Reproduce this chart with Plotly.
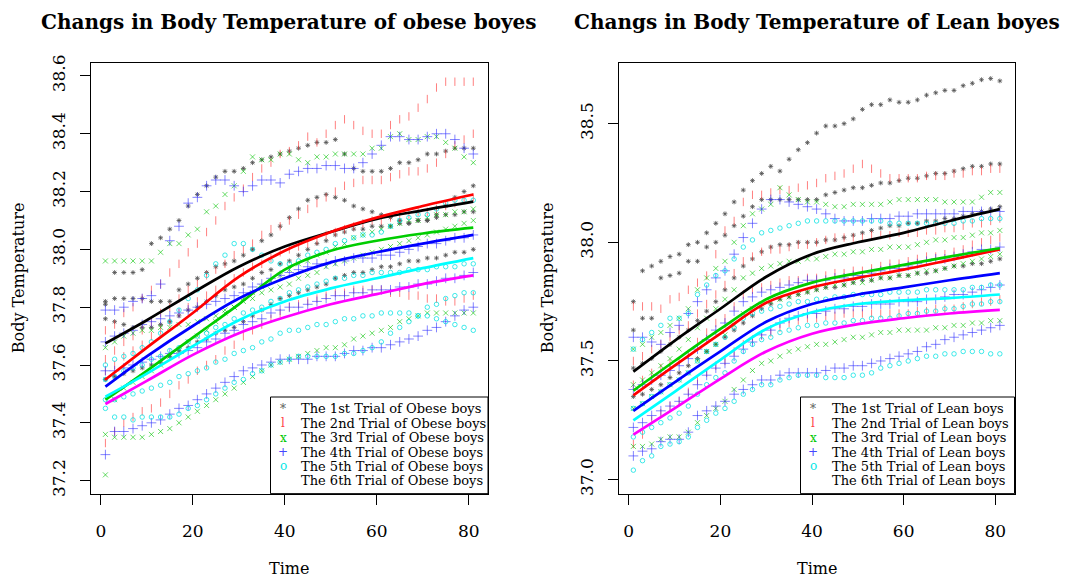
import plotly.graph_objects as go

# ---------------- data ----------------
TIME = list(range(1, 82, 2))                 # observation times shown (odd minutes)
FIT_TIME = [1, 10, 20, 30, 40, 50, 60, 70, 81]
X_TICKS = [0, 20, 40, 60, 80]
OBESE_Y_TICKS = [37.2, 37.4, 37.6, 37.8, 38.0, 38.2, 38.4, 38.6]
LEAN_Y_TICKS = [37.0, 37.5, 38.0, 38.5]

OBESE_LABELS = ["The 1st Trial of Obese boys", "The 2nd Trial of Obese boys",
                "The 3rd Trial of Obese boys", "The 4th Trial of Obese boys",
                "The 5th Trial of Obese boys", "The 6th Trial of Obese boys"]
LEAN_LABELS = ["The 1st Trial of Lean boys", "The 2nd Trial of Lean boys",
               "The 3rd Trial of Lean boys", "The 4th Trial of Lean boys",
               "The 5th Trial of Lean boys", "The 6th Trial of Lean boys"]
LEGEND_SYMBOLS = ["*", "l", "x", "+", "o", " "]

# ---- obese boys: individual tracks per trial ----
obese_trial1 = [
    [37.82, 37.92, 37.92, 37.92, 37.93, 38.02, 38.04, 38.07, 38.10, 38.15,
     38.19, 38.22, 38.25, 38.27, 38.27, 38.28, 38.30, 38.31, 38.32, 38.33,
     38.34, 38.35, 38.36, 38.37, 38.37, 38.38, 38.33, 38.28, 38.27, 38.27,
     38.27, 38.28, 38.30, 38.30, 38.31, 38.33, 38.33, 38.34, 38.35, 38.35, 38.35],
    [37.81, 37.83, 37.83, 37.83, 37.83, 37.82, 37.82, 37.82, 37.86, 37.88,
     37.90, 37.92, 37.94, 37.95, 37.96, 37.98, 38.00, 38.03, 38.05, 38.08,
     38.11, 38.14, 38.17, 38.18, 38.19, 38.18, 38.17, 38.15, 38.14, 38.13,
     38.12, 38.11, 38.10, 38.09, 38.10, 38.10, 38.12, 38.15, 38.18, 38.20, 38.22],
    [37.76, 37.75, 37.74, 37.73, 37.73, 37.73, 37.74, 37.75, 37.77, 37.79,
     37.80, 37.82, 37.84, 37.86, 37.87, 37.88, 37.90, 37.92, 37.93, 37.95,
     37.96, 37.98, 38.00, 38.02, 38.03, 38.05, 38.06, 38.07, 38.07, 38.08,
     38.08, 38.08, 38.09, 38.09, 38.10, 38.10, 38.11, 38.12, 38.12, 38.13, 38.13],
    [37.55, 37.56, 37.57, 37.58, 37.59, 37.60, 37.61, 37.63, 37.65, 37.66,
     37.68, 37.69, 37.71, 37.72, 37.73, 37.75, 37.77, 37.79, 37.81, 37.83,
     37.84, 37.85, 37.86, 37.87, 37.88, 37.90, 37.91, 37.92, 37.92, 37.93,
     37.94, 37.94, 37.95, 37.96, 37.96, 37.97, 37.97, 37.98, 37.99, 37.99, 38.00],
]
obese_trial2 = [
    [37.72, 37.74, 37.78, 37.80, 37.83, 37.86, 37.88, 37.92, 37.95, 37.99,
     38.02, 38.06, 38.10, 38.15, 38.18, 38.21, 38.25, 38.28, 38.30, 38.33,
     38.34, 38.36, 38.39, 38.37, 38.40, 38.43, 38.45, 38.43, 38.41, 38.40,
     38.40, 38.43, 38.45, 38.46, 38.49, 38.52, 38.56, 38.58, 38.58, 38.58, 38.58],
    [37.62, 37.65, 37.68, 37.70, 37.72, 37.75, 37.78, 37.80, 37.83, 37.86,
     37.88, 37.91, 37.93, 37.95, 37.98, 38.00, 38.02, 38.05, 38.07, 38.08,
     38.10, 38.12, 38.14, 38.16, 38.18, 38.20, 38.22, 38.23, 38.24, 38.24,
     38.24, 38.25, 38.26, 38.27, 38.27, 38.28, 38.30, 38.33, 38.36, 38.38, 38.40],
    [37.33, 37.37, 37.40, 37.42, 37.44, 37.45, 37.47, 37.50, 37.53, 37.55,
     37.58, 37.60, 37.62, 37.65, 37.67, 37.70, 37.72, 37.74, 37.76, 37.78,
     37.80, 37.81, 37.82, 37.83, 37.84, 37.85, 37.85, 37.86, 37.86, 37.86,
     37.86, 37.85, 37.85, 37.84, 37.84, 37.83, 37.83, 37.82, 37.82, 37.83, 37.84],
    [37.58, 37.60, 37.63, 37.65, 37.67, 37.70, 37.72, 37.75, 37.78, 37.80,
     37.82, 37.84, 37.86, 37.88, 37.90, 37.92, 37.94, 37.95, 37.97, 37.99,
     38.00, 38.01, 38.02, 38.03, 38.05, 38.06, 38.07, 38.08, 38.09, 38.10,
     38.10, 38.11, 38.11, 38.12, 38.13, 38.13, 38.14, 38.15, 38.16, 38.17, 38.18],
]
obese_trial3 = [
    [37.96, 37.96, 37.96, 37.96, 37.96, 37.96, 37.99, 38.02, 38.02, 38.05,
     38.07, 38.13, 38.15, 38.19, 38.22, 38.27, 38.32, 38.31, 38.31, 38.33,
     38.33, 38.31, 38.30, 38.32, 38.32, 38.33, 38.33, 38.33, 38.33, 38.35,
     38.35, 38.39, 38.40, 38.38, 38.38, 38.39, 38.39, 38.37, 38.35, 38.32, 38.30],
    [37.36, 37.35, 37.35, 37.35, 37.35, 37.36, 37.37, 37.38, 37.40, 37.42,
     37.44, 37.46, 37.48, 37.50, 37.52, 37.54, 37.56, 37.58, 37.60, 37.61,
     37.62, 37.63, 37.64, 37.65, 37.66, 37.66, 37.67, 37.69, 37.70, 37.71,
     37.72, 37.73, 37.75, 37.76, 37.77, 37.78, 37.78, 37.78, 37.78, 37.78, 37.78],
    [37.22, 37.48, 37.52, 37.54, 37.56, 37.58, 37.60, 37.63, 37.65, 37.68,
     37.70, 37.72, 37.75, 37.78, 37.80, 37.83, 37.85, 37.87, 37.89, 37.91,
     37.93, 37.95, 37.96, 37.98, 37.99, 38.01, 38.02, 38.04, 38.05, 38.06,
     38.07, 38.08, 38.09, 38.10, 38.10, 38.11, 38.12, 38.12, 38.13, 38.13, 38.14],
    [37.66, 37.68, 37.70, 37.71, 37.72, 37.72, 37.73, 37.73, 37.74, 37.74,
     37.75, 37.76, 37.77, 37.79, 37.80, 37.82, 37.83, 37.85, 37.86, 37.87,
     37.88, 37.90, 37.91, 37.92, 37.94, 37.95, 37.96, 37.97, 37.98, 37.99,
     38.00, 38.01, 38.02, 38.03, 38.04, 38.05, 38.06, 38.07, 38.08, 38.09, 38.10],
]
obese_trial4 = [
    [37.79, 37.79, 37.80, 37.82, 37.83, 37.84, 37.88, 38.03, 38.08, 38.16,
     38.18, 38.22, 38.24, 38.24, 38.22, 38.20, 38.22, 38.24, 38.24, 38.23,
     38.26, 38.27, 38.28, 38.28, 38.29, 38.29, 38.28, 38.28, 38.30, 38.33,
     38.36, 38.39, 38.39, 38.38, 38.38, 38.39, 38.40, 38.40, 38.38, 38.35, 38.33],
    [37.29, 37.37, 37.37, 37.38, 37.39, 37.40, 37.41, 37.43, 37.45, 37.46,
     37.48, 37.50, 37.52, 37.54, 37.56, 37.58, 37.59, 37.60, 37.61, 37.62,
     37.62, 37.62, 37.62, 37.63, 37.63, 37.63, 37.64, 37.65, 37.65, 37.66,
     37.66, 37.67, 37.68, 37.69, 37.70, 37.72, 37.73, 37.75, 37.77, 37.79, 37.80],
    [37.68, 37.70, 37.71, 37.72, 37.74, 37.75, 37.76, 37.77, 37.78, 37.79,
     37.80, 37.81, 37.82, 37.83, 37.84, 37.85, 37.87, 37.88, 37.90, 37.91,
     37.92, 37.93, 37.94, 37.95, 37.95, 37.96, 37.96, 37.97, 37.97, 37.97,
     37.98, 37.98, 37.99, 38.00, 38.01, 38.02, 38.02, 38.03, 38.04, 38.04, 38.05],
    [37.58, 37.58, 37.59, 37.60, 37.61, 37.62, 37.63, 37.64, 37.64, 37.65,
     37.66, 37.68, 37.69, 37.71, 37.72, 37.74, 37.75, 37.76, 37.78, 37.79,
     37.80, 37.80, 37.81, 37.82, 37.83, 37.84, 37.84, 37.85, 37.85, 37.86,
     37.86, 37.86, 37.87, 37.87, 37.88, 37.88, 37.89, 37.90, 37.90, 37.91, 37.92],
]
obese_trial5 = [
    [37.60, 37.62, 37.63, 37.64, 37.66, 37.68, 37.71, 37.75, 37.79, 37.83,
     37.86, 37.91, 37.95, 37.98, 38.02, 38.02, 38.00, 37.98, 37.96, 37.95,
     37.95, 37.96, 37.98, 37.99, 38.00, 38.02, 38.03, 38.04, 38.05, 38.05,
     38.06, 38.08, 38.10, 38.11, 38.12, 38.12, 38.14, 38.16, 38.17, 38.17, 38.17],
    [37.45, 37.42, 37.42, 37.41, 37.42, 37.42, 37.42, 37.42, 37.43, 37.45,
     37.46, 37.48, 37.50, 37.52, 37.54, 37.55, 37.57, 37.58, 37.60, 37.61,
     37.62, 37.63, 37.63, 37.63, 37.63, 37.63, 37.64, 37.64, 37.65, 37.66,
     37.68, 37.71, 37.73, 37.75, 37.77, 37.80, 37.81, 37.83, 37.84, 37.85, 37.85],
    [37.55, 37.56, 37.58, 37.59, 37.60, 37.62, 37.63, 37.65, 37.66, 37.68,
     37.70, 37.71, 37.73, 37.74, 37.76, 37.78, 37.79, 37.80, 37.82, 37.83,
     37.85, 37.86, 37.87, 37.88, 37.89, 37.90, 37.90, 37.91, 37.91, 37.92,
     37.92, 37.92, 37.92, 37.93, 37.93, 37.93, 37.94, 37.94, 37.94, 37.95, 37.95],
    [37.48, 37.48, 37.49, 37.50, 37.51, 37.52, 37.53, 37.54, 37.56, 37.57,
     37.58, 37.59, 37.61, 37.62, 37.64, 37.65, 37.66, 37.68, 37.69, 37.71,
     37.72, 37.72, 37.73, 37.74, 37.74, 37.75, 37.76, 37.76, 37.77, 37.77,
     37.78, 37.78, 37.78, 37.78, 37.77, 37.77, 37.76, 37.75, 37.74, 37.73, 37.72],
]

# ---- lean boys: individual tracks per trial ----
lean_trial1 = [
    [37.75, 37.88, 37.90, 37.92, 37.94, 37.95, 37.99, 38.00, 38.04, 38.08,
     38.12, 38.17, 38.22, 38.26, 38.29, 38.32, 38.30, 38.35, 38.39, 38.42,
     38.46, 38.49, 38.49, 38.50, 38.52, 38.56, 38.58, 38.58, 38.60, 38.59,
     38.59, 38.60, 38.62, 38.63, 38.64, 38.64, 38.66, 38.67, 38.685, 38.69, 38.68],
    [37.63, 37.68, 37.68, 37.85, 37.86, 37.87, 37.92, 37.92, 37.98, 38.00,
     38.03, 38.07, 38.11, 38.15, 38.18, 38.18, 38.18, 38.18, 38.18, 38.18,
     38.18, 38.20, 38.21, 38.22, 38.23, 38.23, 38.24, 38.25, 38.25, 38.26,
     38.27, 38.27, 38.28, 38.29, 38.29, 38.30, 38.31, 38.32, 38.32, 38.33, 38.33],
    [37.47, 37.49, 37.51, 37.54, 37.57, 37.60, 37.63, 37.67, 37.71, 37.75,
     37.80, 37.85, 37.90, 37.93, 37.96, 37.98, 37.99, 37.99, 38.00, 38.00,
     38.00, 38.01, 38.01, 38.02, 38.03, 38.04, 38.05, 38.06, 38.07, 38.07,
     38.08, 38.08, 38.09, 38.09, 38.10, 38.10, 38.11, 38.12, 38.13, 38.14, 38.15],
    [37.35, 37.36, 37.38, 37.40, 37.43, 37.45, 37.48, 37.51, 37.54, 37.57,
     37.60, 37.63, 37.66, 37.69, 37.72, 37.74, 37.76, 37.77, 37.78, 37.79,
     37.80, 37.81, 37.81, 37.82, 37.83, 37.84, 37.84, 37.85, 37.85, 37.86,
     37.86, 37.87, 37.87, 37.88, 37.89, 37.90, 37.90, 37.91, 37.91, 37.92, 37.93],
]
lean_trial2 = [
    [37.73, 37.73, 37.73, 37.72, 37.76, 37.77, 37.80, 37.83, 37.86, 37.95,
     38.05, 38.09, 38.17, 38.20, 38.20, 38.21, 38.22, 38.22, 38.23, 38.24,
     38.25, 38.27, 38.28, 38.29, 38.31, 38.33, 38.31, 38.29, 38.27, 38.27,
     38.27, 38.27, 38.28, 38.28, 38.28, 38.29, 38.29, 38.30, 38.30, 38.31, 38.31],
    [37.50, 37.52, 37.55, 37.57, 37.60, 37.63, 37.65, 37.70, 37.74, 37.78,
     37.82, 37.87, 37.92, 37.94, 37.96, 37.97, 37.97, 37.98, 37.99, 37.99,
     38.00, 38.01, 38.02, 38.02, 38.02, 38.02, 38.03, 38.03, 38.03, 38.04,
     38.04, 38.04, 38.05, 38.05, 38.06, 38.06, 38.07, 38.08, 38.08, 38.09, 38.10],
    [37.15, 37.19, 37.25, 37.28, 37.31, 37.33, 37.37, 37.42, 37.45, 37.48,
     37.50, 37.54, 37.57, 37.59, 37.61, 37.62, 37.64, 37.66, 37.67, 37.68,
     37.68, 37.69, 37.69, 37.70, 37.70, 37.70, 37.70, 37.70, 37.70, 37.70,
     37.70, 37.71, 37.71, 37.72, 37.72, 37.72, 37.73, 37.74, 37.75, 37.75, 37.76],
    [37.40, 37.42, 37.45, 37.47, 37.49, 37.50, 37.53, 37.58, 37.62, 37.66,
     37.68, 37.73, 37.78, 37.80, 37.81, 37.82, 37.83, 37.84, 37.84, 37.85,
     37.85, 37.86, 37.87, 37.87, 37.88, 37.88, 37.89, 37.90, 37.91, 37.91,
     37.92, 37.93, 37.94, 37.94, 37.95, 37.96, 37.97, 37.99, 38.00, 38.01, 38.02],
]
lean_trial3 = [
    [37.55, 37.57, 37.60, 37.62, 37.65, 37.68, 37.72, 37.80, 37.85, 37.89,
     37.92, 38.00, 38.07, 38.12, 38.14, 38.16, 38.23, 38.20, 38.18, 38.17,
     38.17, 38.16, 38.15, 38.15, 38.16, 38.16, 38.16, 38.16, 38.17, 38.18,
     38.18, 38.18, 38.18, 38.18, 38.17, 38.17, 38.17, 38.17, 38.19, 38.21, 38.21],
    [37.14, 37.14, 37.15, 37.17, 37.18, 37.18, 37.20, 37.24, 37.27, 37.30,
     37.33, 37.38, 37.42, 37.46, 37.49, 37.50, 37.52, 37.54, 37.55, 37.56,
     37.57, 37.57, 37.58, 37.59, 37.60, 37.60, 37.61, 37.62, 37.62, 37.63,
     37.63, 37.63, 37.63, 37.64, 37.64, 37.65, 37.65, 37.66, 37.66, 37.67, 37.67],
    [37.40, 37.42, 37.45, 37.48, 37.51, 37.55, 37.59, 37.64, 37.68, 37.72,
     37.76, 37.80, 37.85, 37.87, 37.89, 37.90, 37.91, 37.92, 37.92, 37.93,
     37.93, 37.94, 37.95, 37.95, 37.96, 37.96, 37.97, 37.97, 37.98, 37.98,
     37.98, 37.99, 38.00, 38.01, 38.01, 38.02, 38.02, 38.03, 38.04, 38.04, 38.05],
    [37.30, 37.32, 37.35, 37.37, 37.40, 37.42, 37.45, 37.50, 37.54, 37.57,
     37.61, 37.65, 37.70, 37.72, 37.74, 37.75, 37.76, 37.77, 37.78, 37.79,
     37.80, 37.81, 37.82, 37.82, 37.83, 37.83, 37.84, 37.85, 37.85, 37.86,
     37.86, 37.87, 37.88, 37.88, 37.89, 37.90, 37.91, 37.92, 37.93, 37.94, 37.95],
]
lean_trial4 = [
    [37.60, 37.60, 37.58, 37.57, 37.62, 37.65, 37.70, 37.75, 37.80, 37.85,
     37.88, 37.95, 38.02, 38.08, 38.14, 38.18, 38.18, 38.17, 38.16, 38.15,
     38.14, 38.12, 38.10, 38.09, 38.09, 38.09, 38.10, 38.10, 38.10, 38.11,
     38.11, 38.12, 38.12, 38.12, 38.12, 38.12, 38.13, 38.13, 38.13, 38.13, 38.13],
    [37.10, 37.12, 37.13, 37.16, 37.17, 37.17, 37.20, 37.27, 37.29, 37.31,
     37.33, 37.36, 37.38, 37.40, 37.42, 37.42, 37.44, 37.45, 37.45, 37.45,
     37.45, 37.46, 37.47, 37.47, 37.48, 37.48, 37.49, 37.50, 37.51, 37.52,
     37.53, 37.54, 37.56, 37.57, 37.59, 37.60, 37.61, 37.62, 37.63, 37.64, 37.65],
    [37.38, 37.40, 37.42, 37.44, 37.46, 37.48, 37.51, 37.55, 37.59, 37.63,
     37.66, 37.71, 37.75, 37.77, 37.79, 37.80, 37.81, 37.82, 37.83, 37.84,
     37.84, 37.84, 37.85, 37.85, 37.86, 37.86, 37.87, 37.88, 37.89, 37.89,
     37.90, 37.91, 37.92, 37.93, 37.93, 37.94, 37.95, 37.96, 37.97, 37.97, 37.98],
    [37.22, 37.24, 37.27, 37.29, 37.31, 37.33, 37.36, 37.40, 37.44, 37.47,
     37.49, 37.52, 37.55, 37.58, 37.61, 37.63, 37.66, 37.68, 37.69, 37.70,
     37.70, 37.71, 37.72, 37.72, 37.73, 37.73, 37.74, 37.74, 37.74, 37.75,
     37.75, 37.75, 37.76, 37.76, 37.77, 37.78, 37.78, 37.79, 37.80, 37.81, 37.82],
]
lean_trial5 = [
    [37.55, 37.59, 37.62, 37.65, 37.68, 37.68, 37.70, 37.78, 37.82, 37.86,
     37.88, 37.93, 37.98, 38.01, 38.04, 38.05, 38.06, 38.07, 38.08, 38.09,
     38.09, 38.09, 38.09, 38.09, 38.09, 38.09, 38.09, 38.09, 38.08, 38.08,
     38.08, 38.08, 38.08, 38.08, 38.08, 38.08, 38.09, 38.09, 38.10, 38.10, 38.10],
    [37.04, 37.08, 37.10, 37.14, 37.15, 37.16, 37.18, 37.22, 37.25, 37.28,
     37.30, 37.33, 37.36, 37.38, 37.40, 37.40, 37.42, 37.43, 37.44, 37.44,
     37.44, 37.43, 37.43, 37.43, 37.44, 37.44, 37.45, 37.47, 37.48, 37.49,
     37.50, 37.51, 37.52, 37.52, 37.53, 37.53, 37.54, 37.54, 37.54, 37.53, 37.53],
    [37.30, 37.32, 37.35, 37.37, 37.40, 37.42, 37.45, 37.50, 37.54, 37.57,
     37.60, 37.64, 37.68, 37.70, 37.71, 37.72, 37.73, 37.74, 37.75, 37.75,
     37.76, 37.76, 37.77, 37.77, 37.78, 37.78, 37.78, 37.78, 37.79, 37.79,
     37.79, 37.79, 37.80, 37.80, 37.80, 37.80, 37.80, 37.81, 37.81, 37.82, 37.82],
    [37.18, 37.20, 37.22, 37.24, 37.26, 37.28, 37.31, 37.36, 37.40, 37.43,
     37.45, 37.50, 37.54, 37.57, 37.59, 37.60, 37.62, 37.63, 37.64, 37.65,
     37.65, 37.66, 37.66, 37.66, 37.67, 37.67, 37.68, 37.68, 37.68, 37.69,
     37.70, 37.70, 37.71, 37.71, 37.72, 37.72, 37.73, 37.74, 37.74, 37.75, 37.75],
]

# ---- fitted (smoothed) curves per trial, read at FIT_TIME ----
obese_fit1 = [37.675, 37.755, 37.850, 37.940, 38.010, 38.060, 38.105, 38.135, 38.165]
obese_fit2 = [37.550, 37.660, 37.780, 37.905, 37.995, 38.060, 38.110, 38.150, 38.190]
obese_fit3 = [37.480, 37.580, 37.695, 37.810, 37.930, 37.995, 38.030, 38.055, 38.075]
obese_fit4 = [37.525, 37.630, 37.735, 37.830, 37.900, 37.955, 37.990, 38.020, 38.050]
obese_fit5 = [37.490, 37.570, 37.665, 37.755, 37.820, 37.865, 37.900, 37.935, 37.970]
obese_fit6 = [37.465, 37.545, 37.635, 37.710, 37.765, 37.810, 37.845, 37.880, 37.910]

lean_fit1 = [37.455, 37.585, 37.720, 37.855, 37.950, 38.000, 38.040, 38.090, 38.140]
lean_fit2 = [37.355, 37.480, 37.615, 37.745, 37.810, 37.850, 37.885, 37.925, 37.970]
lean_fit3 = [37.375, 37.500, 37.635, 37.760, 37.830, 37.870, 37.905, 37.940, 37.975]
lean_fit4 = [37.290, 37.410, 37.540, 37.665, 37.740, 37.780, 37.810, 37.840, 37.870]
lean_fit5 = [37.250, 37.370, 37.505, 37.635, 37.705, 37.740, 37.755, 37.765, 37.780]
lean_fit6 = [37.190, 37.300, 37.425, 37.540, 37.615, 37.655, 37.680, 37.700, 37.715]

# ---------------- styles ----------------
W, H = 1070, 582
SERIF = "DejaVu Serif"
POINT_COLORS = ["rgba(80,80,80,0.8)", "rgba(255,60,60,0.65)", "rgba(0,195,0,0.6)",
                "rgba(50,50,255,0.6)", "rgba(0,225,225,0.75)"]
POINT_SYMBOLS = ["asterisk-open", "line-ns-open", "x-thin-open", "cross-thin-open", "circle-open"]
POINT_SIZES = [4, 6, 5, 7, 4.5]
LINE_COLORS = ["#000000", "#ff0000", "#00cd00", "#0000ff", "#00ffff", "#ff00ff"]


def px(x):
    return x / W


def py(y):
    return 1 - y / H


fig = go.Figure()


def add_panel(trials, fits, xa, ya):
    for k, tracks in enumerate(trials):
        xs, ys = [], []
        for tr in tracks:
            xs += TIME[:len(tr)]
            ys += tr[:len(TIME)]
        fig.add_trace(go.Scatter(
            x=xs, y=ys, mode="markers", xaxis=xa, yaxis=ya,
            marker=dict(symbol=POINT_SYMBOLS[k], size=POINT_SIZES[k], color=POINT_COLORS[k],
                        line=dict(color=POINT_COLORS[k], width=1)),
            hoverinfo="skip", showlegend=False))
    for k, fit in enumerate(fits):
        fig.add_trace(go.Scatter(
            x=FIT_TIME, y=fit, mode="lines", xaxis=xa, yaxis=ya,
            line=dict(color=LINE_COLORS[k], width=2.7, shape="spline", smoothing=1.0),
            hoverinfo="skip", showlegend=False))


add_panel([obese_trial1, obese_trial2, obese_trial3, obese_trial4, obese_trial5],
          [obese_fit1, obese_fit2, obese_fit3, obese_fit4, obese_fit5, obese_fit6], "x", "y")
add_panel([lean_trial1, lean_trial2, lean_trial3, lean_trial4, lean_trial5],
          [lean_fit1, lean_fit2, lean_fit3, lean_fit4, lean_fit5, lean_fit6], "x2", "y2")

PLOT_TOP, PLOT_BOTTOM = 55.7, 495.0
LEFT_X0, LEFT_X1 = 90.7, 488.0
RIGHT_X0, RIGHT_X1 = 618.7, 1014.5

tickfont = dict(family=SERIF, size=17, color="black")
common_x = dict(range=[-2.2, 84.2], tickvals=X_TICKS, ticks="outside", ticklen=10, tickwidth=1,
                tickcolor="black", showline=True, mirror=True, linecolor="black", linewidth=1,
                showgrid=False, zeroline=False, tickfont=tickfont, ticklabelstandoff=12)
common_y = dict(ticks="outside", ticklen=10, tickwidth=1, tickcolor="black", showline=True,
                mirror=True, linecolor="black", linewidth=1, showgrid=False, zeroline=False,
                tickfont=tickfont, tickangle=-90, ticklabelstandoff=8)

fig.update_layout(
    width=W, height=H, margin=dict(l=0, r=0, t=0, b=0),
    paper_bgcolor="white", plot_bgcolor="white", showlegend=False,
    xaxis=dict(domain=[px(LEFT_X0), px(LEFT_X1)], anchor="y", **common_x),
    xaxis2=dict(domain=[px(RIGHT_X0), px(RIGHT_X1)], anchor="y2", **common_x),
    yaxis=dict(domain=[py(PLOT_BOTTOM), py(PLOT_TOP)], anchor="x", range=[37.155, 38.646],
               tickvals=OBESE_Y_TICKS, ticktext=[f"{v:.1f}" for v in OBESE_Y_TICKS], **common_y),
    yaxis2=dict(domain=[py(PLOT_BOTTOM), py(PLOT_TOP)], anchor="x2", range=[36.941, 38.757],
                tickvals=LEAN_Y_TICKS, ticktext=[f"{v:.1f}" for v in LEAN_Y_TICKS], **common_y),
)

ann = []
shapes = []
# titles
for cx, txt in [((LEFT_X0 + LEFT_X1) / 2, "Changs in Body Temperature of obese boyes"),
                ((RIGHT_X0 + RIGHT_X1) / 2, "Changs in Body Temperature of Lean boyes")]:
    ann.append(dict(text=txt, x=px(cx), y=py(14), xref="paper", yref="paper", showarrow=False,
                    xanchor="center", yanchor="middle",
                    font=dict(family=SERIF, size=20, color="black", weight="bold")))
# axis titles
for cx, yx in [((LEFT_X0 + LEFT_X1) / 2, 18), ((RIGHT_X0 + RIGHT_X1) / 2, 547)]:
    ann.append(dict(text="Time", x=px(cx), y=py(571), xref="paper", yref="paper", showarrow=False,
                    xanchor="center", yanchor="middle", font=dict(family=SERIF, size=16, color="black")))
    ann.append(dict(text="Body Temperature", x=px(yx), y=py((PLOT_TOP + PLOT_BOTTOM) / 2),
                    xref="paper", yref="paper", showarrow=False, textangle=-90,
                    xanchor="center", yanchor="middle", font=dict(family=SERIF, size=16, color="black")))

# legends
ROW_Y = [408.5, 423.2, 437.9, 452.6, 467.3, 482.0]
LEGEND_COLORS = ["rgb(90,90,90)", "rgb(255,70,70)", "rgb(0,200,0)", "rgb(70,70,255)",
                 "rgb(0,230,230)", "white"]
for box_x0, box_x1, sym_x, txt_x, labels in [(270.5, LEFT_X1, 283, 299, OBESE_LABELS),
                                              (800.5, RIGHT_X1, 813, 830, LEAN_LABELS)]:
    shapes.append(dict(type="rect", xref="paper", yref="paper", x0=px(box_x0), x1=px(box_x1),
                       y0=py(PLOT_BOTTOM), y1=py(396.5), fillcolor="white",
                       line=dict(color="black", width=1), layer="above"))
    for i, lab in enumerate(labels):
        ann.append(dict(text=LEGEND_SYMBOLS[i], x=px(sym_x), y=py(ROW_Y[i]), xref="paper", yref="paper",
                        showarrow=False, xanchor="center", yanchor="middle",
                        font=dict(family=SERIF, size=12, color=LEGEND_COLORS[i])))
        ann.append(dict(text=lab, x=px(txt_x), y=py(ROW_Y[i]), xref="paper", yref="paper",
                        showarrow=False, xanchor="left", yanchor="middle",
                        font=dict(family=SERIF, size=13, color="black")))

fig.update_layout(annotations=ann, shapes=shapes)
fig.write_html("out.html")
